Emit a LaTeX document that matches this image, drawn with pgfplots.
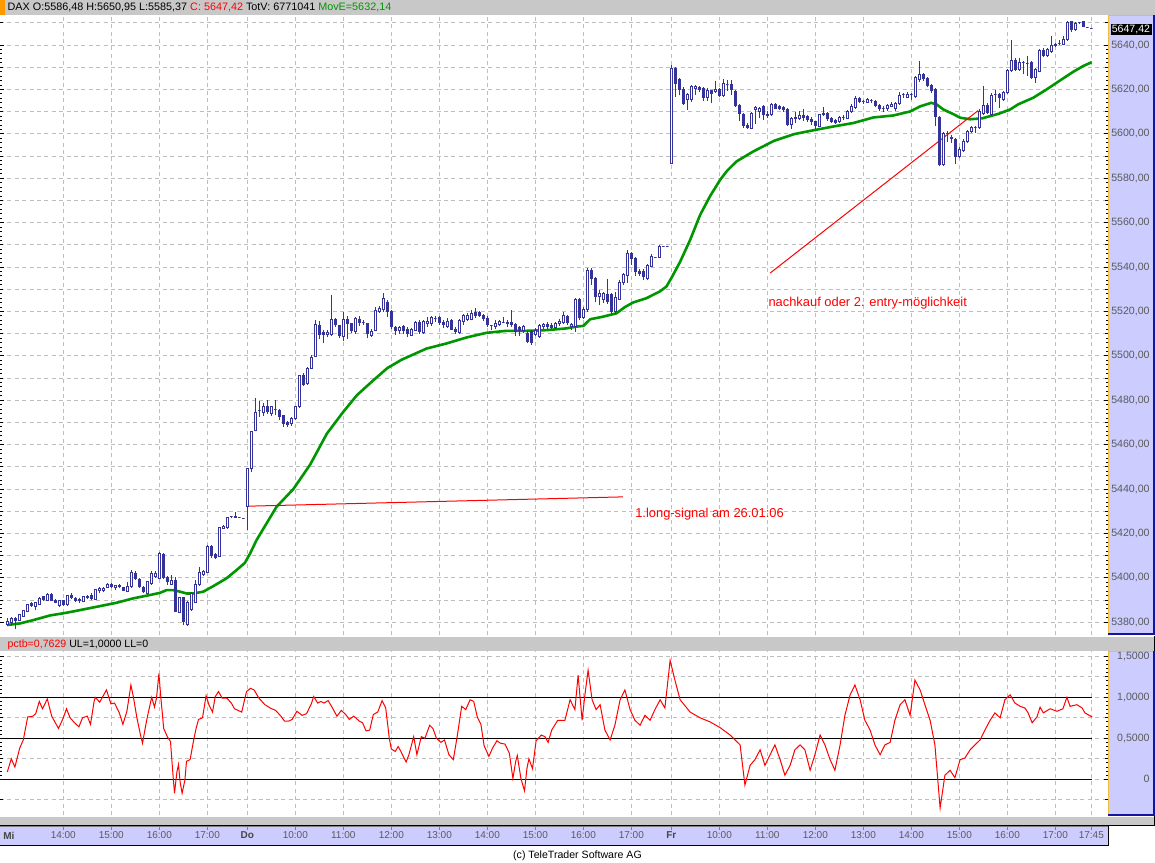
\documentclass[border=0pt]{standalone}
\usepackage{fontspec}
\setmainfont{Liberation Sans}
\usepackage{pgfplots}
\pgfplotsset{compat=1.18}
\usepackage{pgfplotstable}

\definecolor{navyc}{RGB}{51,51,153}
\definecolor{greenc}{RGB}{0,150,0}
\definecolor{lav}{RGB}{204,204,255}
\definecolor{hdr}{RGB}{200,200,200}
\definecolor{gridc}{RGB}{190,190,190}
\definecolor{lbl}{RGB}{90,90,90}
\definecolor{dayc}{RGB}{70,70,70}
\definecolor{orng}{RGB}{255,153,0}
\definecolor{pborder}{RGB}{240,190,60}
\definecolor{bborder}{RGB}{20,20,160}
\definecolor{zeroc}{RGB}{0,0,64}

\newcommand\fs{\fontsize{5.3pt}{6pt}\selectfont}
\newcommand\ft{\fontsize{5pt}{6pt}\selectfont}
\newcommand\fh{\fontsize{5.4pt}{6.5pt}\selectfont}
\newcommand\fa{\fontsize{6.45pt}{7.5pt}\selectfont}

\pgfdeclareplotmark{candle}{%
  \begingroup
  \pgfkeys{/pgf/fpu=true,/pgf/fpu/output format=fixed}%
  \pgfmathparse{(\candH-\candL)*1.11}\global\let\candW\pgfmathresult
  \pgfmathparse{(min(\candO,\candC)-\candL)*1.11}\global\let\candB\pgfmathresult
  \pgfmathparse{(max(\candO,\candC)-\candL)*1.11}\global\let\candT\pgfmathresult
  \pgfmathparse{\candC<\candO ? 1 : 0}\global\let\candD\pgfmathresult
  \endgroup
  \begin{pgfscope}%
  \pgfsetlinewidth{0.5pt}%
  \pgfsetstrokecolor{navyc}%
  \pgfpathmoveto{\pgfqpoint{0pt}{0pt}}%
  \pgfpathlineto{\pgfpoint{0pt}{\candW pt}}%
  \pgfusepath{stroke}%
  \ifdim\candD pt>0.5pt\relax\pgfsetfillcolor{navyc}\else\pgfsetfillcolor{white}\fi
  \pgfpathrectanglecorners{\pgfpoint{-0.65pt}{\candB pt}}{\pgfpoint{0.65pt}{\candT pt}}%
  \pgfusepath{fill,stroke}%
  \end{pgfscope}%
}

\pgfplotstableread{
i o h l c
0 5379.0 5381.8 5378.3 5380.3
1 5379.8 5382.5 5379.0 5381.8
2 5381.8 5382.2 5376.8 5381.0
3 5380.7 5383.8 5380.5 5383.3
4 5382.8 5385.5 5382.5 5385.2
5 5384.8 5388.2 5384.5 5387.8
6 5388.5 5389.3 5387.0 5387.6
7 5387.3 5389.0 5385.5 5388.8
8 5388.2 5391.3 5388.0 5390.8
9 5391.5 5392.0 5389.8 5390.3
10 5389.7 5393.0 5389.5 5392.6
11 5392.7 5393.0 5389.5 5390.0
12 5390.0 5390.5 5388.5 5389.1
13 5387.6 5390.2 5386.8 5389.7
14 5389.7 5390.0 5387.5 5388.2
15 5387.8 5392.5 5387.5 5392.1
16 5392.2 5393.0 5390.5 5391.2
17 5390.8 5391.5 5389.0 5389.7
18 5389.7 5391.0 5388.5 5390.3
19 5389.3 5392.0 5389.0 5391.5
20 5391.8 5392.5 5390.3 5391.0
21 5392.2 5393.0 5390.0 5390.8
22 5390.5 5395.2 5390.3 5394.8
23 5394.2 5396.0 5393.0 5395.1
24 5394.2 5395.8 5393.5 5395.4
25 5395.7 5397.8 5395.3 5397.2
26 5397.0 5397.5 5395.5 5396.0
27 5395.7 5397.0 5394.5 5396.5
28 5396.8 5397.3 5395.3 5396.0
29 5395.7 5396.0 5394.0 5394.5
30 5393.8 5398.0 5393.5 5396.3
31 5396.0 5403.5 5395.5 5402.3
32 5402.0 5403.0 5399.0 5399.8
33 5399.3 5399.8 5395.5 5396.0
34 5395.7 5396.5 5393.0 5393.8
35 5393.0 5398.8 5392.8 5398.3
36 5397.5 5403.0 5397.0 5402.0
37 5400.8 5403.0 5400.0 5402.0
38 5399.8 5411.5 5399.3 5411.0
39 5410.7 5411.0 5399.5 5400.2
40 5400.0 5401.0 5397.0 5398.3
41 5397.2 5401.5 5396.8 5399.0
42 5399.0 5400.5 5384.5 5384.8
43 5384.5 5391.5 5384.0 5391.2
44 5391.2 5391.5 5378.8 5380.3
45 5379.2 5389.5 5378.5 5389.0
46 5385.8 5393.5 5385.3 5393.0
47 5388.8 5399.0 5388.5 5397.2
48 5396.9 5405.0 5396.5 5402.3
49 5401.7 5403.5 5401.0 5403.0
50 5402.3 5415.0 5402.0 5414.3
51 5414.3 5415.0 5409.0 5410.0
52 5410.7 5411.0 5408.5 5409.2
53 5409.8 5423.0 5409.5 5422.7
54 5422.3 5423.8 5422.0 5423.0
55 5422.5 5427.5 5422.0 5427.2
56 5427.5 5427.8 5427.2 5427.5
57 5427.8 5429.8 5427.0 5427.0
58 5427.1 5427.1 5427.1 5427.1
59 5426.9 5426.9 5426.9 5426.9
60 5432.3 5449.3 5421.8 5449.3
61 5449.3 5466.1 5447.8 5466.1
62 5466.5 5481.2 5466.0 5474.5
63 5475.5 5479.7 5472.5 5475.5
64 5474.5 5479.0 5473.0 5477.0
65 5477.0 5480.3 5474.0 5474.8
66 5474.0 5477.5 5473.0 5477.0
67 5475.8 5480.0 5473.3 5475.8
68 5475.5 5476.0 5471.0 5472.5
69 5473.0 5473.5 5468.0 5469.5
70 5470.0 5470.5 5468.0 5469.2
71 5469.5 5472.3 5468.5 5471.8
72 5471.8 5477.5 5471.0 5477.0
73 5477.0 5491.5 5476.5 5491.0
74 5491.0 5492.5 5486.5 5487.0
75 5487.5 5495.0 5487.0 5494.5
76 5494.5 5500.5 5494.0 5499.5
77 5499.8 5516.2 5499.5 5514.2
78 5513.9 5515.5 5507.5 5509.8
79 5510.5 5511.5 5505.6 5509.5
80 5509.5 5511.5 5508.5 5510.7
81 5509.8 5527.5 5509.0 5516.5
82 5516.5 5517.0 5513.0 5514.0
83 5513.5 5514.0 5508.0 5509.0
84 5508.6 5520.0 5506.5 5516.5
85 5516.5 5518.0 5507.4 5514.4
86 5514.4 5515.0 5510.5 5511.3
87 5510.9 5517.5 5510.0 5516.8
88 5516.5 5518.0 5513.5 5515.0
89 5515.0 5516.2 5514.0 5515.0
90 5514.7 5515.0 5508.0 5510.1
91 5509.4 5512.0 5508.5 5511.2
92 5511.3 5522.0 5511.0 5520.3
93 5520.0 5522.5 5519.5 5521.2
94 5520.7 5528.3 5520.0 5525.7
95 5524.2 5525.0 5517.5 5520.0
96 5520.0 5520.5 5512.0 5513.3
97 5512.9 5513.5 5509.4 5511.6
98 5511.4 5513.5 5509.8 5512.9
99 5513.2 5513.8 5509.8 5511.6
100 5512.1 5513.0 5508.3 5510.1
101 5509.4 5512.6 5508.8 5512.0
102 5511.6 5515.9 5511.0 5515.0
103 5515.0 5516.0 5510.0 5510.9
104 5510.4 5516.0 5510.0 5515.4
105 5514.7 5517.4 5513.2 5515.4
106 5514.4 5518.0 5513.5 5517.4
107 5516.8 5518.0 5515.4 5516.8
108 5517.2 5518.0 5514.0 5515.0
109 5515.0 5516.0 5512.5 5514.0
110 5513.2 5517.0 5512.5 5515.4
111 5515.9 5516.5 5511.5 5512.1
112 5512.1 5513.0 5510.0 5510.9
113 5510.4 5516.5 5510.0 5515.9
114 5515.4 5519.0 5514.0 5518.0
115 5516.5 5519.5 5515.5 5518.0
116 5516.5 5520.5 5516.0 5519.2
117 5519.5 5521.5 5517.0 5518.0
118 5519.5 5520.3 5517.5 5518.3
119 5518.3 5519.0 5515.5 5517.0
120 5517.0 5518.0 5513.0 5514.0
121 5513.6 5514.0 5511.6 5513.6
122 5513.2 5516.0 5512.0 5514.7
123 5514.2 5516.0 5513.5 5515.4
124 5515.1 5517.4 5514.7 5515.1
125 5515.1 5516.2 5513.2 5514.4
126 5515.1 5520.7 5513.0 5514.0
127 5514.0 5515.0 5508.8 5510.9
128 5512.9 5513.5 5509.0 5511.6
129 5511.6 5513.8 5510.5 5513.2
130 5510.1 5511.0 5505.6 5506.3
131 5510.9 5511.5 5504.8 5505.9
132 5509.8 5512.5 5509.0 5511.6
133 5508.9 5514.5 5508.0 5513.9
134 5513.2 5515.0 5512.1 5514.2
135 5514.2 5515.4 5512.0 5513.2
136 5513.9 5515.0 5512.0 5512.9
137 5512.9 5515.4 5512.0 5514.7
138 5514.4 5516.5 5513.5 5515.4
139 5515.0 5520.0 5514.4 5518.0
140 5517.7 5518.5 5514.0 5515.0
141 5513.2 5515.0 5511.6 5514.0
142 5513.2 5526.0 5510.9 5525.3
143 5525.3 5526.0 5516.0 5517.4
144 5517.4 5522.0 5516.5 5521.0
145 5520.7 5539.5 5520.0 5538.6
146 5538.6 5539.5 5532.1 5534.7
147 5534.7 5535.5 5524.1 5526.8
148 5526.8 5529.5 5523.0 5528.3
149 5525.3 5529.0 5524.0 5528.0
150 5527.5 5534.7 5523.5 5524.5
151 5527.5 5528.5 5519.0 5520.0
152 5520.0 5528.6 5519.0 5526.5
153 5525.6 5534.0 5525.0 5533.2
154 5532.9 5537.5 5532.0 5536.6
155 5536.2 5547.5 5532.9 5546.2
156 5546.2 5547.0 5541.0 5543.8
157 5543.8 5544.5 5536.0 5538.2
158 5538.2 5539.0 5536.0 5537.1
159 5538.2 5539.0 5534.0 5535.6
160 5534.7 5541.5 5534.0 5540.7
161 5540.4 5545.7 5540.0 5544.7
162 5544.2 5544.5 5544.0 5544.2
163 5544.2 5550.0 5544.0 5549.5
164 5549.5 5549.5 5549.5 5549.5
165 5549.5 5549.5 5549.5 5549.5
166 5586.5 5631.2 5586.5 5629.4
167 5629.4 5630.0 5616.4 5622.9
168 5624.4 5625.0 5617.3 5619.9
169 5619.9 5621.0 5613.0 5613.9
170 5615.4 5618.5 5610.9 5617.7
171 5615.4 5622.0 5614.5 5621.4
172 5620.4 5622.2 5617.7 5621.4
173 5621.0 5621.5 5619.0 5619.9
174 5620.4 5621.0 5615.0 5616.5
175 5616.2 5620.5 5615.0 5619.5
176 5619.5 5620.0 5613.9 5618.0
177 5618.9 5624.0 5618.5 5619.9
178 5619.9 5620.5 5616.5 5617.4
179 5617.4 5624.9 5616.5 5622.5
180 5622.2 5624.4 5619.5 5622.2
181 5622.2 5624.4 5617.3 5619.9
182 5619.2 5620.0 5612.0 5612.8
183 5612.8 5613.5 5605.6 5609.4
184 5608.9 5609.5 5602.6 5603.8
185 5603.8 5604.9 5602.3 5602.9
186 5602.6 5610.0 5602.0 5609.4
187 5610.9 5612.4 5604.4 5611.9
188 5610.1 5612.0 5607.0 5611.6
189 5612.4 5613.0 5606.4 5608.6
190 5608.3 5610.4 5607.1 5608.9
191 5608.6 5614.0 5608.0 5613.1
192 5613.4 5614.0 5611.0 5611.6
193 5612.4 5613.0 5610.6 5611.6
194 5612.1 5612.5 5610.0 5610.9
195 5610.9 5611.5 5603.5 5604.4
196 5604.4 5607.5 5602.3 5606.8
197 5606.8 5609.9 5604.9 5607.4
198 5607.1 5610.1 5606.4 5608.2
199 5608.2 5611.3 5605.6 5607.4
200 5607.9 5608.5 5605.5 5606.4
201 5606.4 5607.4 5603.8 5605.6
202 5605.6 5606.0 5602.3 5603.8
203 5603.4 5609.0 5602.9 5608.6
204 5608.6 5611.9 5607.9 5609.4
205 5609.4 5610.0 5606.0 5606.8
206 5606.8 5607.4 5604.9 5605.6
207 5605.9 5606.5 5604.4 5605.0
208 5605.6 5608.0 5605.0 5607.4
209 5607.4 5608.6 5606.4 5607.4
210 5607.1 5610.8 5606.5 5610.1
211 5610.1 5613.4 5609.4 5612.4
212 5611.9 5617.0 5611.0 5616.1
213 5616.1 5616.8 5613.8 5614.6
214 5614.6 5615.4 5613.5 5614.6
215 5614.3 5616.1 5613.8 5615.4
216 5614.9 5615.7 5613.9 5614.9
217 5614.6 5615.4 5612.1 5612.8
218 5612.8 5613.5 5610.5 5611.3
219 5611.6 5612.4 5609.9 5611.6
220 5611.3 5613.5 5610.5 5612.8
221 5612.4 5614.3 5612.0 5613.1
222 5611.3 5614.5 5610.5 5613.9
223 5613.9 5618.9 5613.0 5617.4
224 5617.7 5618.4 5616.1 5617.7
225 5616.4 5618.9 5616.1 5617.9
226 5617.7 5618.4 5615.4 5617.7
227 5616.9 5626.0 5616.0 5625.2
228 5624.4 5633.0 5623.5 5626.7
229 5626.7 5627.4 5624.0 5624.9
230 5624.9 5625.5 5621.0 5621.9
231 5621.9 5622.5 5618.5 5619.5
232 5619.9 5620.5 5603.5 5607.9
233 5607.4 5608.0 5585.4 5586.2
234 5586.1 5601.0 5585.5 5600.0
235 5600.0 5601.1 5596.5 5600.0
236 5598.5 5599.7 5596.0 5597.9
237 5597.5 5598.3 5586.6 5590.0
238 5590.0 5594.0 5589.0 5593.0
239 5592.6 5597.5 5592.0 5596.8
240 5596.5 5601.8 5595.8 5601.0
241 5601.0 5603.5 5600.5 5602.8
242 5603.1 5603.6 5600.5 5603.1
243 5602.8 5611.1 5602.3 5610.3
244 5609.1 5621.5 5608.5 5613.0
245 5613.0 5613.8 5608.8 5609.5
246 5608.8 5618.3 5608.0 5617.5
247 5617.8 5619.6 5614.5 5617.8
248 5617.8 5618.5 5611.8 5616.3
249 5615.6 5619.5 5615.0 5618.6
250 5618.6 5629.3 5618.0 5628.6
251 5628.6 5642.1 5628.0 5633.1
252 5633.1 5634.0 5628.3 5629.1
253 5629.1 5634.0 5628.5 5632.1
254 5632.1 5632.8 5626.8 5632.1
255 5631.6 5635.1 5625.9 5631.6
256 5632.1 5632.8 5624.7 5625.3
257 5625.3 5629.8 5623.0 5629.1
258 5628.3 5638.3 5627.7 5637.6
259 5637.6 5638.8 5634.8 5635.5
260 5635.1 5638.8 5634.5 5638.1
261 5637.0 5644.1 5636.5 5640.0
262 5639.6 5641.0 5639.0 5640.3
263 5640.6 5642.1 5640.0 5640.6
264 5640.3 5644.1 5640.0 5642.6
265 5642.6 5651.0 5642.0 5650.1
266 5650.5 5650.9 5646.0 5647.1
267 5647.1 5650.2 5646.5 5649.6
268 5650.1 5650.5 5649.5 5650.1
269 5650.5 5650.9 5648.0 5648.6
270 5647.8 5647.8 5647.8 5647.8
271 5647.4 5647.4 5647.4 5647.4
}\candles

\begin{document}
\begin{tikzpicture}
\useasboundingbox (0pt,0pt) rectangle (577.5pt,-431pt);
\fill[white] (0pt,0pt) rectangle (577.5pt,-431pt);

\begin{scope}[x=0.5pt,y=-0.5pt]
  \fill[hdr] (0,0) rectangle (1155,15);
  \fill[orng] (0,0) rectangle (5,15);
  \node[anchor=west,inner sep=0pt,font=\fh] at (7.3,7.8)
    {DAX O:5586,48 H:5650,95 L:5585,37 \textcolor{red}{C: 5647,42} TotV: 6771041 \textcolor{greenc}{MovE=5632,14}};
  \fill[lav] (1108,15) rectangle (1155,634);
  \draw[pborder,line width=0.5pt] (1108.5,634) -- (1108.5,15.5) -- (1153,15.5);
  \draw[bborder,line width=1pt] (1153.5,15) -- (1153.5,633.5) -- (1108,633.5);
  \fill[hdr] (0,636.5) rectangle (1155,651);
  \node[anchor=west,inner sep=0pt,font=\fs] at (7.3,644.3)
    {\textcolor{red}{pctb=0,7629} UL=1,0000 LL=0};
  \fill[lav] (1108,651) rectangle (1155,815);
  \draw[pborder,line width=0.5pt] (1108.5,815) -- (1108.5,651.5) -- (1153,651.5);
  \draw[bborder,line width=1pt] (1153.5,651) -- (1153.5,814.5) -- (1108,814.5);
  \fill[hdr] (0,817) rectangle (1155,825.5);
  \fill[lav] (0,826) rectangle (1108,845);
  \draw[gray,line width=0.5pt] (0,826.5) -- (1108,826.5);
  \draw[black,line width=0.5pt] (0,845) -- (1108,845) -- (1108,826);
  \draw[black,line width=0.5pt] (1154.5,636) -- (1154.5,651) (1154.5,816) -- (1154.5,825.5) -- (0,825.5);
\end{scope}

\begin{axis}[
  at={(0pt,-317.5pt)}, anchor=south west,
  x=2pt, y=1.11pt,
  xmin=-1.825, xmax=275.175, ymin=5374.28, ymax=5653.56,
  axis line style={draw=none},
  axis background/.style={fill=white},
  xtick={14,26,38,50,60,72,84,96,108,120,132,144,156,166,178,190,202,214,226,238,250,262,271},
  xticklabels={}, xtick style={draw=none},
  xmajorgrids, ymajorgrids,
  ytick={5380,5400,...,5640},
  yticklabels={{5380,00},{5400,00},{5420,00},{5440,00},{5460,00},{5480,00},{5500,00},{5520,00},{5540,00},{5560,00},{5580,00},{5600,00},{5620,00},{5640,00}},
  minor y tick num=9,
  extra y ticks={5390,5410,...,5650}, extra y tick labels={},
  extra y tick style={ymajorgrids=true, major tick length=1.5pt},
  grid style={gridc, dash pattern=on 2pt off 1.7pt, line width=0.5pt},
  tick align=inside, ytick pos=both, yticklabel pos=right,
  major tick length=2pt, minor tick length=1pt,
  ytick style={black, line width=0.5pt},
  yticklabel style={anchor=east, inner sep=0pt, xshift=21pt, text=lbl, font=\fs},
]
\addplot[scatter, only marks, mark=candle, point meta=y,
  visualization depends on={\thisrow{o} \as \candO},
  visualization depends on={\thisrow{h} \as \candH},
  visualization depends on={\thisrow{l} \as \candL},
  visualization depends on={\thisrow{c} \as \candC},
] table[x=i, y=l] {\candles};

\addplot[greenc, line width=1.3pt] coordinates {
(0,5378.8) (3.2,5379.5) (6.5,5381) (10.7,5383.1) (14.8,5384.3) (19,5385.8) (23.2,5387.3)
(27.3,5388.8) (31.5,5390.8) (35.7,5392.3) (38.2,5393.3) (39.8,5394.5) (41.5,5394.5)
(43.2,5393.8) (44.8,5393) (46.5,5393) (49,5393.8) (51.5,5396.3) (54.8,5399.8) (57.3,5403.5)
(59.4,5406.8) (60.7,5411) (62.3,5417) (64.8,5424.5) (67.3,5432) (71.5,5440) (75.7,5451)
(79.9,5465) (84,5474.8) (87.4,5482.3) (91.5,5489) (95,5494.5) (98.6,5498.3) (104.8,5503.3)
(109.8,5505.6) (114.8,5508.3) (119.8,5510.4) (124.8,5511.3) (129.8,5511.3) (134.8,5511.6)
(139.8,5512.4) (142.3,5513.2) (144,5513.5) (145.7,5516.5) (149,5517.7) (152.3,5519.2)
(154.4,5522) (156.5,5524.1) (159.8,5526) (163.2,5529.1) (164.8,5531.3) (166,5535)
(168.2,5542.4) (170.7,5552.2) (173.2,5563.5) (175.7,5572) (178.2,5579.3) (180,5583.5)
(182.3,5587.6) (186.5,5592.1) (191.7,5596.9) (196.7,5599.9) (201.7,5601.7) (206.7,5603.4)
(211.5,5604.9) (216.5,5607.4) (221.5,5608.3) (225.7,5610.1) (228.2,5612.4) (231,5614)
(232.3,5613.3) (234,5611) (236.5,5608.9) (238.2,5607.3) (240.7,5606.6) (243.7,5607)
(247.9,5609.1) (250.7,5611) (252.7,5613.3) (256.5,5616.3) (259.8,5620) (263.2,5624.1)
(266.5,5628) (269,5630.6) (271.1,5632.3)
};

\addplot[red, line width=0.5pt] coordinates {(60,5432.3) (153.9,5436.5)};
\addplot[red, line width=0.5pt] coordinates {(190.7,5537.3) (242.7,5610.5)};
\node[anchor=west, inner sep=0pt, text=red, font=\fa] at (axis cs:156.9,5428.6) {1.long-signal am 26.01:06};
\node[anchor=west, inner sep=0pt, text=red, font=\fa] at (axis cs:190.2,5523.6) {nachkauf oder 2. entry-möglichkeit};
\end{axis}

\begin{axis}[
  at={(0pt,-407.5pt)}, anchor=south west,
  x=2pt, y=41pt,
  xmin=-1.825, xmax=275.175, ymin=-0.4354, ymax=1.5646,
  axis line style={draw=none},
  axis background/.style={fill=white},
  xtick={14,26,38,50,60,72,84,96,108,120,132,144,156,166,178,190,202,214,226,238,250,262,271},
  xticklabels={}, xtick style={draw=none},
  xmajorgrids, ymajorgrids,
  ytick={0,0.5,1,1.5},
  yticklabels={0,{0,5000},{1,0000},{1,5000}},
  minor y tick num=9,
  extra y ticks={-0.25,0.25,0.75,1.25}, extra y tick labels={},
  extra y tick style={ymajorgrids=true, major tick length=1.5pt},
  grid style={gridc, dash pattern=on 2pt off 1.7pt, line width=0.5pt},
  tick align=inside, ytick pos=both, yticklabel pos=right,
  major tick length=2pt, minor tick length=1pt,
  ytick style={black, line width=0.5pt},
  yticklabel style={anchor=east, inner sep=0pt, xshift=21pt, text=lbl, font=\fs},
]
\addplot[black, line width=0.5pt] coordinates {(-1.825,1) (271.2,1)};
\addplot[black, line width=0.5pt] coordinates {(-1.825,0.5) (271.2,0.5)};
\addplot[zeroc, line width=0.5pt] coordinates {(-1.825,0) (271.2,0)};
\addplot[red, line width=0.5pt] coordinates {
(0,0.09) (1.0,0.25) (1.9,0.15) (3.1,0.38) (4.0,0.48) (5.1,0.76) (6.4,0.77) (7.1,0.80) (8.0,0.95)
(8.8,0.86) (10.0,0.98) (11.1,0.77) (12.0,0.69) (12.8,0.62) (14.0,0.75) (14.8,0.86) (15.7,0.75)
(16.8,0.69) (17.9,0.64) (18.8,0.75) (20.0,0.77) (20.8,0.67) (21.7,0.95) (22.0,1.00) (23.1,0.94)
(24.1,1.03) (24.8,1.09) (25.9,0.92) (26.8,0.93) (28.0,0.81) (28.9,0.67) (29.9,0.83) (30.9,1.15)
(31.5,1.01) (32.4,0.75) (33.3,0.54) (33.8,0.44) (34.8,0.71) (35.5,0.87) (36.1,1.00) (36.8,0.88)
(37.3,0.99) (37.9,1.29) (38.4,0.99) (39.1,0.62) (40.0,0.52) (40.8,0.46) (41.3,0.13) (41.8,-0.17)
(42.4,0.09) (42.8,0.18) (43.2,-0.03) (43.7,-0.17) (44.4,-0.01) (44.8,0.22) (45.7,0.24) (46.6,0.48)
(47.2,0.62) (47.8,0.73) (48.8,0.75) (49.7,1.02) (50.4,0.91) (51.3,0.82) (52.0,1.01) (52.8,1.07)
(53.7,0.99) (54.9,0.99) (56.0,0.93) (56.8,0.86) (58.6,0.82) (59.8,1.07) (60.8,1.11) (61.7,1.09)
(62.9,0.99) (64.4,0.91) (65.7,0.87) (67.1,0.84) (68.4,0.77) (69.3,0.71) (70.4,0.71) (71.2,0.73)
(72.4,0.83) (73.7,0.78) (74.8,0.80) (76.0,0.92) (76.6,1.01) (77.6,0.93) (78.4,0.95) (79.2,0.93)
(80.2,0.96) (81.3,0.87) (82.4,0.77) (83.5,0.84) (84.6,0.79) (85.5,0.73) (86.6,0.77) (88.0,0.71)
(88.8,0.69) (89.7,0.59) (90.6,0.60) (91.5,0.79) (92.6,0.82) (93.7,0.96) (94.6,0.87) (95.5,0.50)
(96.0,0.37) (97.0,0.34) (97.7,0.40) (98.4,0.34) (99.7,0.21) (100.4,0.30) (101.6,0.52) (102.4,0.30)
(103.5,0.52) (104.4,0.50) (105.6,0.66) (106.4,0.62) (107.3,0.50) (108.4,0.45) (109.3,0.48)
(110.4,0.30) (111.5,0.24) (112.4,0.50) (113.6,0.89) (114.6,0.85) (115.7,0.97) (116.6,0.95)
(117.5,0.76) (118.4,0.67) (119.2,0.41) (120.4,0.28) (121.3,0.38) (122.4,0.47) (123.3,0.44)
(124.4,0.43) (125.5,0.32) (126.4,0.01) (127.1,0.22) (127.5,0.29) (128.4,0.01) (129.3,-0.14)
(129.9,0.13) (130.4,0.25) (131.3,0.13) (132.2,0.47) (133.5,0.54) (134.4,0.52) (135.2,0.45)
(136.1,0.60) (137.6,0.72) (139.4,0.72)
(140.7,0.97) (141.9,0.85) (142.7,1.27) (143.7,0.72) (144.4,1.03) (145.2,1.33) (146.2,0.97)
(147.2,0.85) (148.2,0.91) (149.4,0.60) (150.7,0.48) (151.9,0.66) (153.2,0.97) (154.4,1.09)
(155.7,0.85) (156.9,0.72) (158.2,0.66) (159.4,0.78) (160.7,0.72) (161.9,0.85) (163.2,0.97)
(164.4,0.87) (165.7,1.45) (166.9,1.21) (168.2,0.97) (170.7,0.82) (173.2,0.75) (175.7,0.70)
(178.2,0.63) (180.7,0.54) (183.2,0.42) (184.4,-0.07) (185.7,0.17) (186.9,0.24) (188.2,0.36)
(189.4,0.17) (190.7,0.30) (191.9,0.42) (193.2,0.24) (194.4,0.05) (195.7,0.17) (196.9,0.36)
(198.2,0.42) (199.4,0.36) (200.7,0.11) (201.9,0.30) (203.2,0.54) (204.4,0.42) (205.7,0.24)
(206.9,0.11) (208.2,0.42) (209.4,0.78) (210.7,1.03) (211.9,1.15) (213.2,0.97) (214.4,0.72)
(215.7,0.60) (216.9,0.42) (218.2,0.30) (219.4,0.42) (220.7,0.45) (221.9,0.72) (223.2,0.91)
(224.4,0.97) (225.7,0.78) (226.9,1.21) (228.2,1.09) (229.4,0.91) (230.7,0.72) (231.9,0.42)
(233.2,-0.35) (234.4,0.05) (235.7,0.11) (236.9,0.02) (238.2,0.24) (239.4,0.26) (240.7,0.36)
(241.9,0.42) (243.2,0.48) (244.4,0.60) (245.7,0.72) (246.9,0.81) (248.2,0.75) (249.4,0.97)
(250.7,1.03) (251.9,0.93) (253.2,0.89) (254.4,0.87) (255.2,0.81) (256.2,0.69) (257.4,0.76)
(258.2,0.88) (259.0,0.81) (260.7,0.86) (262.4,0.83) (263.9,0.86) (264.9,1.00) (265.7,0.89)
(267.4,0.91) (268.7,0.87) (269.4,0.81) (271.2,0.76)
};
\end{axis}

\begin{axis}[
  at={(0pt,-422.5pt)}, anchor=south west,
  scale only axis, width=554pt, height=9.5pt,
  xmin=-1.825, xmax=275.175, ymin=0, ymax=1,
  axis line style={draw=none},
  ytick=\empty,
  xtick={14,26,38,50,60,72,84,96,108,120,132,144,156,166,178,190,202,214,226,238,250,262,271},
  xticklabels={14:00,15:00,16:00,17:00,{\bfseries\color{dayc}Do},10:00,11:00,12:00,13:00,14:00,15:00,16:00,17:00,{\bfseries\color{dayc}Fr},10:00,11:00,12:00,13:00,14:00,15:00,16:00,17:00,17:45},
  xtick pos=upper, xticklabel pos=lower,
  tick align=inside, major tick length=2pt,
  xtick style={gray, line width=0.5pt},
  xticklabel style={anchor=center, inner sep=0pt, yshift=4.75pt, text=lbl, font=\ft},
]
\end{axis}

\begin{scope}[x=0.5pt,y=-0.5pt]
  \node[anchor=west, inner sep=0pt, font=\ft\bfseries, text=dayc] at (3,835.5) {Mi};
  \node[inner sep=0pt, font=\fs] at (577.5,856) {(c) TeleTrader Software AG};
  \fill[black] (1111,23.5) rectangle (1152,34.5);
  \node[anchor=east, inner sep=0pt, text=white, font=\fs] at (1150.5,29.2) {5647,42};
\end{scope}
\end{tikzpicture}
\end{document}
